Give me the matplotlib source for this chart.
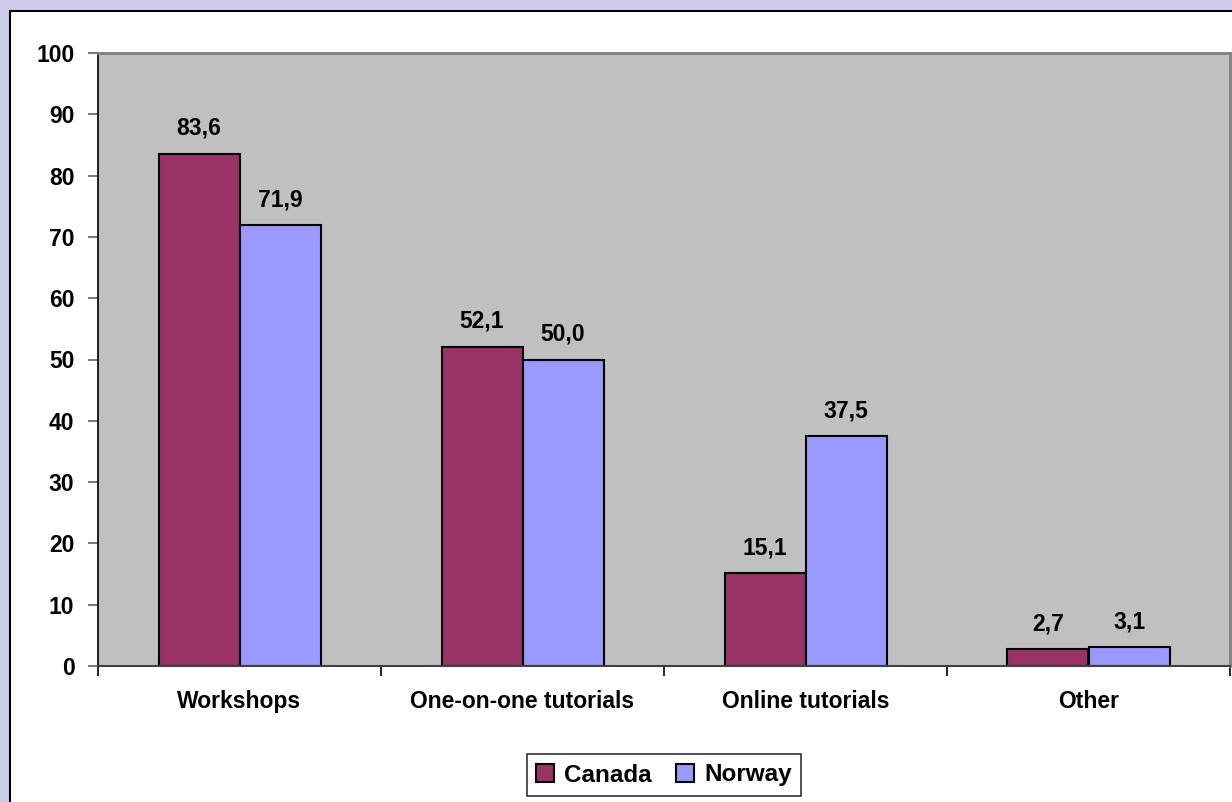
import matplotlib.pyplot as plt
import numpy as np
from matplotlib.patches import Rectangle

categories = ["Workshops", "One-on-one tutorials", "Online tutorials", "Other"]
canada = [83.6, 52.1, 15.1, 2.7]
norway = [71.9, 50.0, 37.5, 3.1]
series_names = ["Canada", "Norway"]

plt.rcParams["font.family"] = ["Liberation Sans", "DejaVu Sans"]
plt.rcParams["font.weight"] = "bold"
FS = 16.5

fig = plt.figure(figsize=(12.32, 8.02), dpi=100)
fig.patch.set_facecolor("#ccccea")

# white chart area with black frame (runs off right and bottom edges)
fig.patches.append(Rectangle((10 / 1232, -0.1), 1.2, (802 - 11) / 802 + 0.1,
                             transform=fig.transFigure, facecolor="white",
                             edgecolor="black", linewidth=1.5, zorder=-5))

ax = fig.add_axes([98 / 1232, 136 / 802, 1132 / 1232, 613 / 802])
ax.set_facecolor("#c0c0c0")

index = np.arange(len(categories))
w = 81 / 283
b1 = ax.bar(index - w / 2, canada, w, color="#993366", edgecolor="black",
            linewidth=1.5, label=series_names[0], zorder=2)
b2 = ax.bar(index + w / 2, norway, w, color="#9999ff", edgecolor="black",
            linewidth=1.5, label=series_names[1], zorder=2)

for bars, vals in ((b1, canada), (b2, norway)):
    for bar, v in zip(bars, vals):
        ax.annotate(f"{v:.1f}".replace(".", ","),
                    (bar.get_x() + bar.get_width() / 2, bar.get_height()),
                    xytext=(0, 10), textcoords="offset points",
                    ha="center", va="bottom", fontsize=FS, fontweight="bold")

ax.set_xlim(-0.5, len(categories) - 0.5)
ax.set_ylim(0, 100)
ax.set_yticks(np.arange(0, 101, 10))
ax.tick_params(axis="y", labelsize=FS, length=7, width=1.2, color="#606060", pad=10)

ax.set_xticks(np.arange(-0.5, len(categories), 1.0))
ax.set_xticklabels([])
ax.set_xticks(index, minor=True)
ax.set_xticklabels(categories, minor=True, fontsize=FS, fontweight="bold")
ax.tick_params(axis="x", which="major", length=7, width=1.2, color="black")
ax.tick_params(axis="x", which="minor", length=0, pad=17.5)

for s in ("top", "right"):
    ax.spines[s].set_color("#808080")
    ax.spines[s].set_linewidth(2)
ax.spines["left"].set_color("black")
ax.spines["left"].set_linewidth(1.2)
ax.spines["bottom"].set_color("#404040")
ax.spines["bottom"].set_linewidth(1.5)

leg = fig.legend(handles=[b1, b2], loc="center", bbox_to_anchor=(664 / 1232, 27 / 802),
                 ncol=2, frameon=True, fancybox=False,
                 handlelength=0.75, handleheight=0.75, handletextpad=0.4,
                 columnspacing=1.0, borderpad=0.4, borderaxespad=0,
                 prop={"weight": "bold", "size": 17.5})
leg.get_frame().set_edgecolor("black")
leg.get_frame().set_linewidth(1.2)

fig.savefig("out.png", dpi=100, facecolor=fig.get_facecolor())
